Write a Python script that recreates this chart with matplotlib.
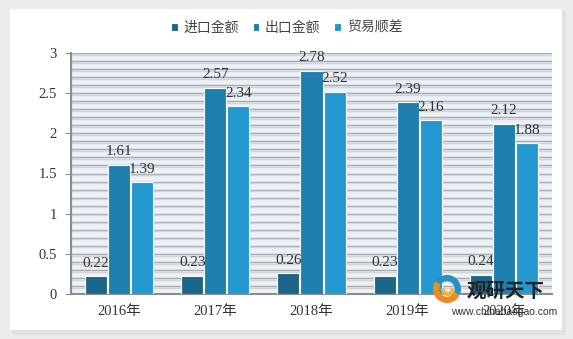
import matplotlib.pyplot as plt
import matplotlib.patches as mpatches
import matplotlib.transforms as mtransforms
import numpy as np

plt.rcParams['font.family'] = ['Liberation Serif', 'Noto Sans CJK SC']

years = ['2016年', '2017年', '2018年', '2019年', '2020年']
imports = [0.22, 0.23, 0.26, 0.23, 0.24]
exports = [1.61, 2.57, 2.78, 2.39, 2.12]
surplus = [1.39, 2.34, 2.52, 2.16, 1.88]
series_names = ['进口金额', '出口金额', '贸易顺差']
colors = ['#1b6689', '#1f80b0', '#2399cf']

fig = plt.figure(figsize=(5.73, 3.39), dpi=100)
fig.patch.set_facecolor('#ececec')

# white panel with soft shadow
for i, c in enumerate(['#d8d8d8', '#e2e2e2']):
    fig.patches.append(mpatches.Rectangle((12 / 573 + i * 0.002, 1 - 334 / 339 - i * 0.003),
                                          553 / 573, 323 / 339, transform=fig.transFigure,
                                          facecolor=c, edgecolor='none', zorder=0))
fig.patches.append(mpatches.Rectangle((10 / 573, 1 - 330 / 339), 552 / 573, 321 / 339,
                                      transform=fig.transFigure, facecolor='white',
                                      edgecolor='none', zorder=0.5))

ax = fig.add_axes([71 / 573, 1 - 294 / 339, 481 / 573, 241 / 339])
ax.set_zorder(2)
ax.set_facecolor('#eaf1f8')

x = np.arange(len(years))
w = 0.23
offsets = [-w - 0.01, 0, w + 0.01]
for vals, off, col, name in zip([imports, exports, surplus], offsets, colors, series_names):
    bars = ax.bar(x + off, vals, w, color=col, label=name, edgecolor='white', linewidth=0.8, zorder=3)
    for b, v in zip(bars, vals):
        ax.text(b.get_x() + b.get_width() / 2, v + 0.08, f'{v:.2f}', ha='center', va='bottom',
                fontsize=11, color='#333333', zorder=4)

ax.set_xlim(-0.5, len(years) - 0.5)
ax.set_ylim(0, 3)
ax.set_xticks(x)
ax.set_xticklabels(years, fontsize=10.5, color='#333333')
ax.set_yticks(np.arange(0, 3.01, 0.5))
ax.set_yticklabels(['0', '0.5', '1', '1.5', '2', '2.5', '3'], fontsize=10.5, color='#333333')

# horizontal grid every 0.1 with a light shadow line
shadow = mtransforms.offset_copy(ax.transData, fig=fig, x=0, y=-1.2, units='points')
for g in np.arange(0.1, 3.01, 0.1):
    ax.axhline(g, color='#a9a9a9', linewidth=1.0, zorder=1)
    ax.plot([-0.5, len(years) - 0.5], [g, g], color='#d4d4d4', linewidth=1.0, zorder=1,
            transform=shadow)

for s in ['top', 'right']:
    ax.spines[s].set_visible(False)
ax.spines['left'].set_color('#8c8c8c')
ax.spines['bottom'].set_color('#8c8c8c')
ax.spines['left'].set_linewidth(1.5)
ax.spines['bottom'].set_linewidth(1.5)
ax.tick_params(axis='y', length=4, color='#8c8c8c', pad=6)
ax.tick_params(axis='x', length=0, pad=8)

leg = fig.legend(loc='upper center', bbox_to_anchor=(0.5, 0.975), ncol=3, frameon=False,
                 handlelength=0.5, handleheight=0.5, handletextpad=0.4, columnspacing=1.0,
                 prop={'family': ['Noto Sans CJK SC'], 'size': 10})
for t in leg.get_texts():
    t.set_color('#444444')

# watermark: small swirl logo plus text
lax = fig.add_axes([432 / 573, 1 - 303 / 339, 30 / 573, 28 / 339])
lax.set_zorder(5)
lax.set_xlim(-1, 1)
lax.set_ylim(-1, 1)
lax.set_aspect('equal')
lax.axis('off')
lax.add_patch(mpatches.Wedge((0, 0), 0.95, 150, 330, width=0.35, color='#f08c1e'))
lax.add_patch(mpatches.Wedge((0, 0), 0.95, -20, 140, width=0.35, color='#2a8fc4'))
lax.add_patch(mpatches.Wedge((0.05, 0), 0.45, 180, 360, width=0.18, color='#f5b041'))

wm1 = fig.text(0.883, 0.142, '观研天下', fontsize=14, fontweight='bold', color='#222222',
               family=['Noto Sans CJK SC'], ha='center', va='center')
wm2 = fig.text(0.88, 0.080, 'www.chinabaogao.com', fontsize=7.5, color='#333333',
               family=['Liberation Sans'], ha='center', va='center')
wm1.set_zorder(5)
wm2.set_zorder(5)

fig.savefig('out.png', dpi=100, facecolor=fig.get_facecolor())
